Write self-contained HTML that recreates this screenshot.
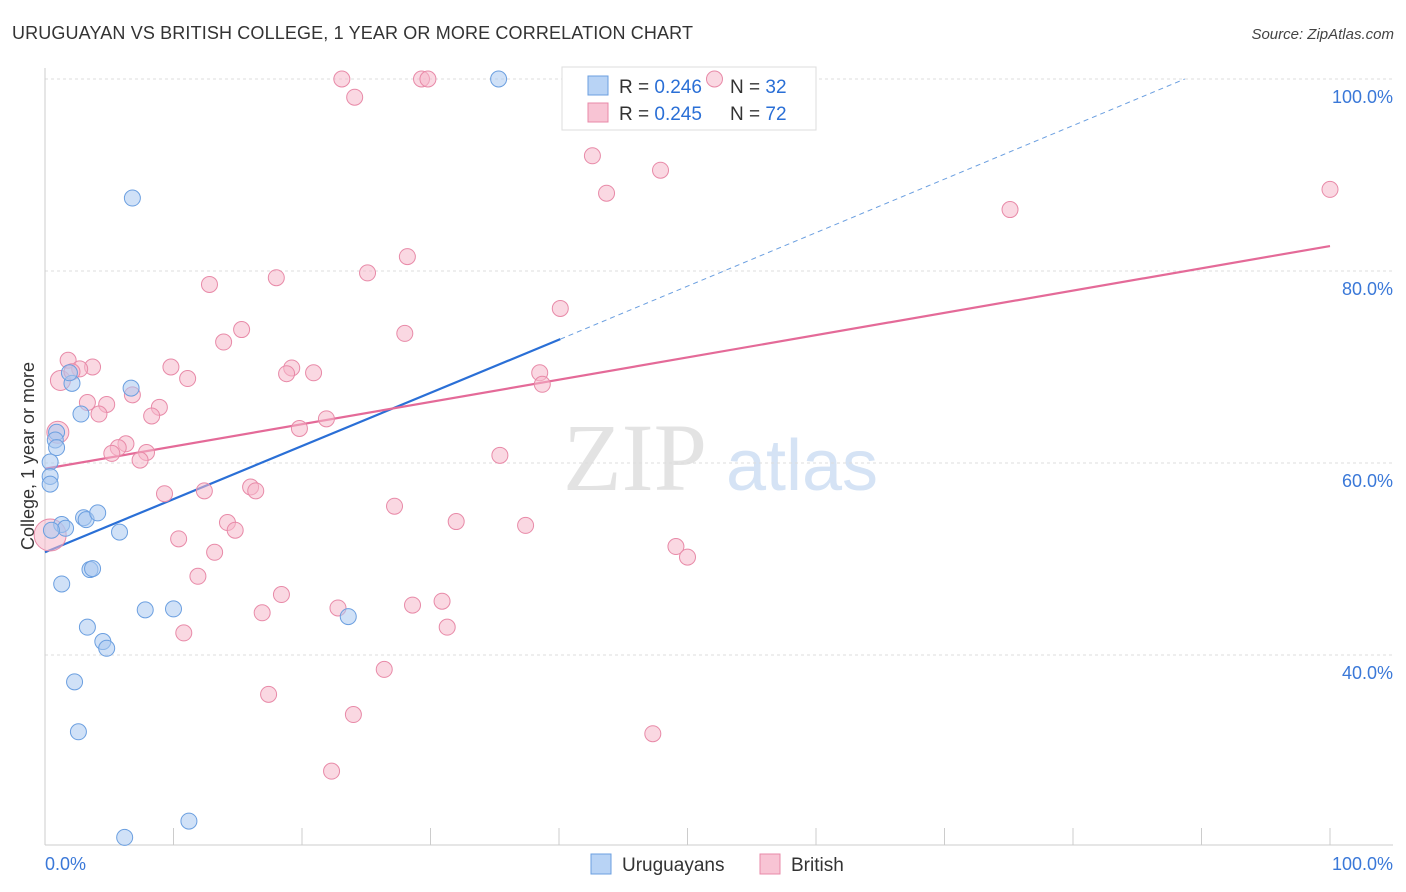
<!DOCTYPE html>
<html><head><meta charset="utf-8"><style>
body{margin:0;background:#fff;font-family:"Liberation Sans",sans-serif}
svg{display:block}
</style></head><body>
<svg id="chart" width="1406" height="892" xmlns="http://www.w3.org/2000/svg">
<text x="12" y="39" font-size="18" fill="#333" font-family="Liberation Sans" textLength="681">URUGUAYAN VS BRITISH COLLEGE, 1 YEAR OR MORE CORRELATION CHART</text>
<text x="1394" y="39" font-size="15" fill="#444" font-style="italic" text-anchor="end">Source: ZipAtlas.com</text>
<g>
<text x="635" y="490" font-size="96" fill="#e3e3e3" text-anchor="middle" font-family="Liberation Serif">ZIP</text>
<text x="802" y="490" font-size="72" fill="#d5e3f5" text-anchor="middle">atlas</text>
</g>
<g id="grid"></g>
<g id="axes"></g>
<g>
<rect x="562" y="67" width="254" height="63" fill="#fff" stroke="#ddd"/>
<rect x="588" y="76" width="20" height="19" fill="#b8d3f5" stroke="#6b9fe0"/>
<rect x="588" y="103" width="20" height="19" fill="#f8c4d4" stroke="#e88aa8"/>
<text x="619" y="93" font-size="19" fill="#333">R = <tspan fill="#2a6fd6">0.246</tspan></text>
<text x="730" y="93" font-size="19" fill="#333">N = <tspan fill="#2a6fd6">32</tspan></text>
<text x="619" y="120" font-size="19" fill="#333">R = <tspan fill="#2a6fd6">0.245</tspan></text>
<text x="730" y="120" font-size="19" fill="#333">N = <tspan fill="#2a6fd6">72</tspan></text>
</g>
<g id="lines"></g>
<g id="points"></g>
<text transform="translate(34,456) rotate(-90)" font-size="18" fill="#333" text-anchor="middle">College, 1 year or more</text>
<g>
<rect x="591" y="854" width="20" height="20" fill="#b8d3f5" stroke="#6b9fe0"/>
<text x="622" y="871" font-size="19" fill="#333">Uruguayans</text>
<rect x="760" y="854" width="20" height="20" fill="#f8c4d4" stroke="#e88aa8"/>
<text x="791" y="871" font-size="19" fill="#333">British</text>
</g>
</svg>
<script>
const yTicks=[100,80,60,40];
const yTickLabels=["100.0%","80.0%","60.0%","40.0%"];
const xTickLabels=["0.0%","100.0%"];
const blueX=[35.3,6.8,6.7,2.1,1.9,2.8,0.9,0.8,0.9,0.4,0.4,0.4,1.3,1.6,3.0,3.2,4.1,5.8,3.5,3.7,1.3,3.3,7.8,10.0,4.5,4.8,23.6,2.3,2.6,6.2,11.2,0.5];
const blueY=[100,87.6,67.8,68.3,69.4,65.1,63.2,62.4,61.6,60.1,58.6,57.8,53.6,53.2,54.3,54.1,54.8,52.8,48.9,49.0,47.4,42.9,44.7,44.8,41.4,40.7,44.0,37.2,32.0,21.0,22.7,53.0];
const pinkX=[23.1,29.3,29.8,52.1,24.1,42.6,47.9,43.7,100,75.1,28.2,25.1,18.0,12.8,40.1,15.3,28.0,13.9,1.8,3.7,2.7,9.8,38.5,20.9,19.2,18.8,11.1,1.2,38.7,2.1,3.3,4.8,6.8,8.9,8.3,4.2,21.9,1.0,19.8,6.3,5.7,7.9,5.2,7.4,35.4,16.0,9.3,16.4,12.4,27.2,14.2,32.0,37.4,14.8,10.4,13.2,49.1,50.0,11.9,18.4,16.9,28.6,30.9,22.8,31.3,10.8,26.4,17.4,24.0,47.3,22.3,0.4];
const pinkY=[100,100,100,100,98.1,92.0,90.5,88.1,88.5,86.4,81.5,79.8,79.3,78.6,76.1,73.9,73.5,72.6,70.7,70.0,69.8,70.0,69.4,69.4,69.9,69.3,68.8,68.6,68.2,69.5,66.3,66.1,67.1,65.8,64.9,65.1,64.6,63.2,63.6,62.0,61.6,61.1,61.0,60.3,60.8,57.5,56.8,57.1,57.1,55.5,53.8,53.9,53.5,53.0,52.1,50.7,51.3,50.2,48.2,46.3,44.4,45.2,45.6,44.9,42.9,42.3,38.5,35.9,33.8,31.8,27.9,52.5];
const blueTrend=[[0,50.7],[40.1,72.9]];
const blueTrendExt=[[40.1,72.9],[88.7,100]];
const pinkTrend=[[0,59.4],[100,82.6]];

const NS="http://www.w3.org/2000/svg";
function sx(v){return 45+v*12.85;}
function sy(v){return 79+(100-v)*9.6;}
function mk(tag,attrs,parent){const e=document.createElementNS(NS,tag);for(const k in attrs)e.setAttribute(k,attrs[k]);document.getElementById(parent).appendChild(e);return e;}

yTicks.forEach((t,i)=>{
  const l=mk('line',{x1:45,x2:1393,y1:sy(t),y2:sy(t),stroke:'#ddd','stroke-dasharray':'3,3'},'grid');
  
  
  const tx=mk('text',{x:1393,y:sy(t)+24,'font-size':18,fill:'#3a78d8','text-anchor':'end'},'grid');
  tx.textContent=yTickLabels[i];
  
  
});
const ax=mk('line',{x1:45,x2:45,y1:68,y2:845,stroke:'#ccc'},'axes');


const bx=mk('line',{x1:45,x2:1393,y1:845,y2:845,stroke:'#ccc'},'axes');


for(let i=1;i<=10;i++){
  const t=mk('line',{x1:sx(i*10),x2:sx(i*10),y1:828,y2:845,stroke:'#ccc'},'axes');
  
  
}
[[0,'start'],[100,'end']].forEach((p,i)=>{
  const t=mk('text',{x:i?1393:45,y:870,'font-size':18,fill:'#3a78d8','text-anchor':p[1]},'axes');
  t.textContent=xTickLabels[i];
  
  
});
function line(pts,color,dash,name){
  const l=mk('line',{x1:sx(pts[0][0]),y1:sy(pts[0][1]),x2:sx(pts[1][0]),y2:sy(pts[1][1]),stroke:color,'stroke-width':dash?1:2.2},'lines');
  if(dash)l.setAttribute('stroke-dasharray','5,4');
  
  
}
function pts(xs,ys,fill,stroke,name,big){
  xs.forEach((x,i)=>{
    const r=(big&&big[i])?big[i]:8;
    const c=mk('circle',{cx:sx(x),cy:sy(ys[i]),r:r,fill:fill,'fill-opacity':0.55,stroke:stroke,'stroke-width':1},'points');
    
    
  });
}
const pinkBig={71:16,37:11,27:10};
pts(pinkX,pinkY,'#f5b8cb','#e88aa8','british-point',pinkBig);
pts(blueX,blueY,'#a9c8f0','#6b9fe0','uruguayan-point',null);
line(blueTrendExt,'#6b9fe0',true,'uruguayan-trend-extension');
line(blueTrend,'#2a6fd6',false,'uruguayan-trend-line');
line(pinkTrend,'#e46a98',false,'british-trend-line');
</script>
</body></html>
